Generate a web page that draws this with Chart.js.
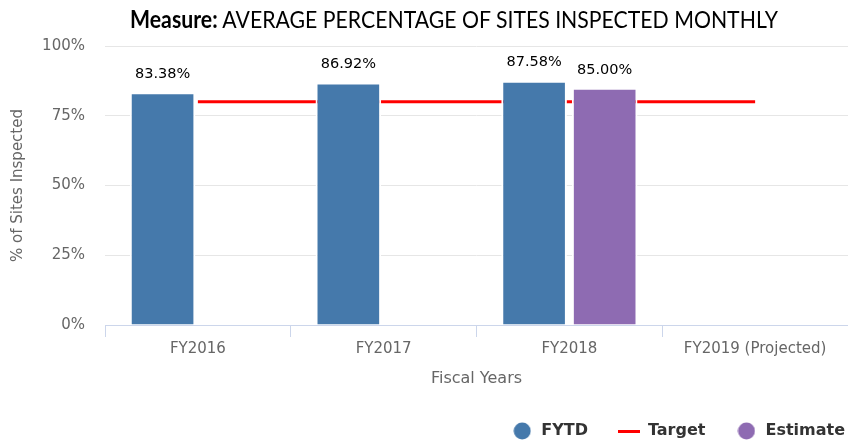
<!DOCTYPE html>
<html>
<head>
<meta charset="utf-8">
<script src="https://cdn.jsdelivr.net/npm/chart.js@4.4.1/dist/chart.umd.min.js"></script>
<style>
  html, body { margin: 0; padding: 0; background: #fff; }
  #wrap { position: relative; width: 848px; height: 443px; }
  #title {
    position: absolute; top: 4px; left: 454px; white-space: nowrap;
    transform-origin: 0 0;
    font-family: Lato, "Liberation Sans", sans-serif;
    font-size: 24px; color: #000; line-height: 30px;
  }
</style>
</head>
<body>
<div id="wrap">
  <div id="title"><b>Measure:</b> AVERAGE PERCENTAGE OF SITES INSPECTED MONTHLY</div>
  <canvas id="chart" width="848" height="443"></canvas>
</div>
<script>
// Chart data
const categories = ['FY2016', 'FY2017', 'FY2018', 'FY2019 (Projected)'];
const fytdValues = [83.38, 86.92, 87.58, null];
const targetValues = [80, 80, 80, 80];
const estimateValues = [null, null, 85.00, null];
const yTicks = [0, 25, 50, 75, 100];

const tickFont = { family: '"DejaVu Sans", sans-serif', size: 15 };

// squeeze the title into the same width as the original (130..778)
const titleEl = document.getElementById('title');
titleEl.style.transform = 'translateX(-324px) scaleX(' + (648 / titleEl.offsetWidth) + ')';

// legend icons
function circleIcon(color) {
  const c = document.createElement('canvas');
  c.width = 18;
  c.height = 18;
  const g = c.getContext('2d');
  g.fillStyle = color;
  g.beginPath();
  g.arc(9, 9, 8.5, 0, Math.PI * 2);
  g.fill();
  return c;
}
function lineIcon(color) {
  const c = document.createElement('canvas');
  c.width = 22;
  c.height = 3;
  const g = c.getContext('2d');
  g.fillStyle = color;
  g.fillRect(0, 0, 22, 3);
  return c;
}

// Draw the value above each bar
const valueLabels = {
  id: 'valueLabels',
  afterDatasetsDraw(chart) {
    const ctx = chart.ctx;
    ctx.save();
    ctx.font = '14.5px "DejaVu Sans", sans-serif';
    ctx.fillStyle = '#000';
    ctx.textAlign = 'center';
    ctx.textBaseline = 'middle';
    chart.data.datasets.forEach((ds, i) => {
      if (ds.type === 'line') return;
      chart.getDatasetMeta(i).data.forEach((bar, j) => {
        const v = ds.data[j];
        if (v == null) return;
        ctx.fillText(v.toFixed(2) + '%', bar.x, bar.y - 18);
      });
    });
    ctx.restore();
  }
};

// Fix the legend box height and nudge it to the right edge
const legendBox = {
  id: 'legendBox',
  beforeInit(chart) {
    const fit = chart.legend.fit;
    chart.legend.fit = function () {
      fit.bind(chart.legend)();
      this.height = 50;
    };
  },
  afterLayout(chart) {
    chart.legend.left += 27;
    chart.legend.right += 27;
  }
};

new Chart(document.getElementById('chart'), {
  data: {
    labels: categories,
    datasets: [
      {
        type: 'bar',
        label: 'FYTD',
        data: fytdValues,
        backgroundColor: '#4579ab',
        borderColor: '#ffffff',
        borderWidth: 2,
        order: 1,
        categoryPercentage: 0.76,
        barPercentage: 0.93
      },
      {
        type: 'line',
        label: 'Target',
        data: targetValues,
        borderColor: '#ff0000',
        backgroundColor: '#ff0000',
        borderWidth: 3,
        pointRadius: 0,
        fill: false,
        order: 2
      },
      {
        type: 'bar',
        label: 'Estimate',
        data: estimateValues,
        backgroundColor: '#8e6bb2',
        borderColor: '#ffffff',
        borderWidth: 2,
        order: 1,
        categoryPercentage: 0.76,
        barPercentage: 0.93
      }
    ]
  },
  options: {
    responsive: false,
    animation: false,
    layout: { padding: { top: 46, right: 0, bottom: 0, left: 0 } },
    scales: {
      x: {
        offset: true,
        grid: { offset: true, drawOnChartArea: false, drawTicks: true, tickLength: 12, color: '#ccd6eb' },
        border: { color: '#ccd6eb' },
        ticks: { color: '#666', font: tickFont, padding: 3, maxRotation: 0 },
        title: { display: true, text: 'Fiscal Years', color: '#666', font: { family: '"DejaVu Sans", sans-serif', size: 16 }, padding: { top: 0, bottom: 5 } },
        afterFit(scale) { scale.height = 68; }
      },
      y: {
        min: 0,
        max: 100,
        afterBuildTicks(scale) { scale.ticks = yTicks.map(v => ({ value: v })); },
        grid: { color: '#e6e6e6', drawTicks: false },
        border: { display: false },
        ticks: { color: '#666', font: tickFont, padding: 20, callback: v => v + '%' },
        title: { display: true, text: '% of Sites Inspected', color: '#666', font: tickFont, padding: { top: 9, bottom: 0 } },
        afterFit(scale) { scale.width = 105; }
      }
    },
    plugins: {
      legend: {
        position: 'bottom',
        align: 'end',
        labels: {
          usePointStyle: true,
          pointStyleWidth: 22,
          boxHeight: 16,
          padding: 30,
          color: '#333',
          font: { family: '"DejaVu Sans", sans-serif', size: 16, weight: 'bold' },
          sort: (a, b) => a.datasetIndex - b.datasetIndex,
          generateLabels(chart) {
            const items = Chart.defaults.plugins.legend.labels.generateLabels(chart);
            items.forEach(item => {
              const ds = chart.data.datasets[item.datasetIndex];
              item.pointStyle = ds.type === 'line' ? lineIcon(ds.borderColor) : circleIcon(ds.backgroundColor);
              item.lineWidth = 0;
            });
            return items;
          }
        }
      },
      tooltip: { enabled: false }
    }
  },
  plugins: [valueLabels, legendBox]
});
</script>
</body>
</html>
